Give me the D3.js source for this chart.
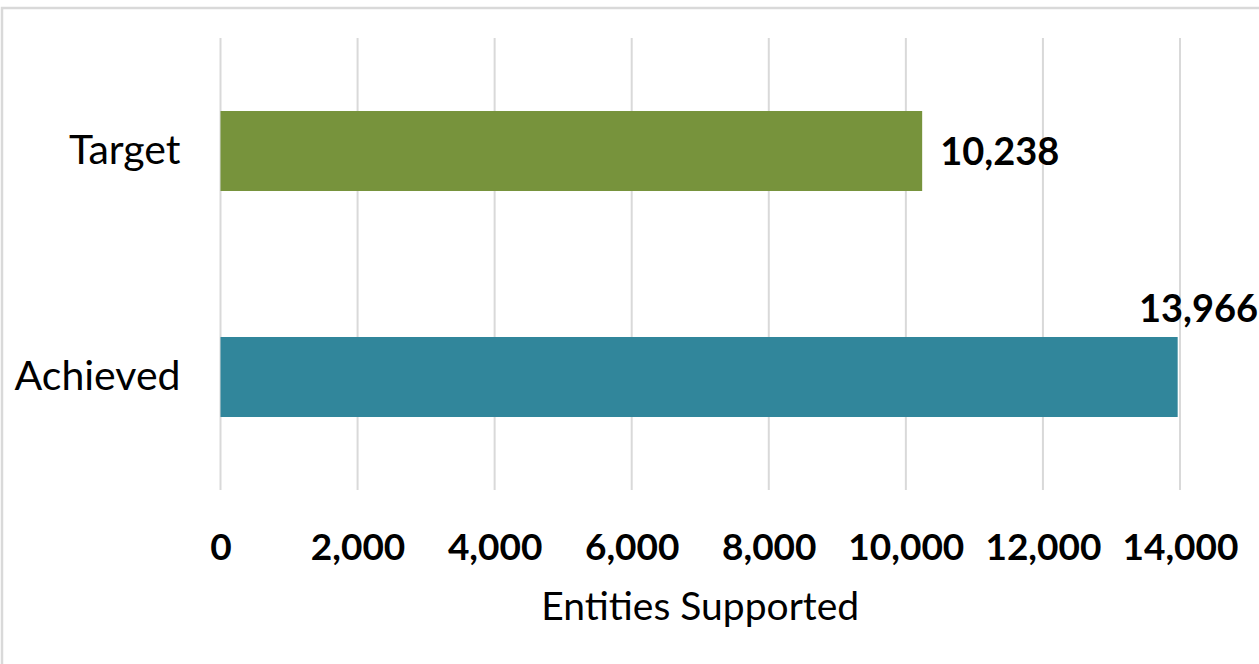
<!DOCTYPE html>
<html>
<head>
<meta charset="utf-8">
<script src="https://cdn.jsdelivr.net/npm/d3@7"></script>
<style>
    body { margin: 0; background: #fff; }
    svg text { font-family: Lato, "Open Sans", sans-serif; fill: #000; }
</style>
</head>
<body>
<div id="chart"></div>
<script>
const categories = ['Target', 'Achieved']
const values = [10238, 13966]
const barColors = ['#77933c', '#31869b']
const tickValues = [0, 2000, 4000, 6000, 8000, 10000, 12000, 14000]
const axisTitle = 'Entities Supported'

const WIDTH = 1259
const HEIGHT = 664
const margin = { top: 38, right: 79, bottom: 174, left: 220.5 }

const svg = d3.select('#chart')
    .append('svg')
    .attr('width', WIDTH)
    .attr('height', HEIGHT)

// Chart frame
svg.append('rect')
    .attr('x', 2)
    .attr('y', 8)
    .attr('width', WIDTH + 10)
    .attr('height', HEIGHT + 10)
    .attr('fill', 'none')
    .attr('stroke', '#d9d9d9')
    .attr('stroke-width', 2.5)

const xscale = d3.scaleLinear()
    .domain([0, 14000])
    .range([margin.left, WIDTH - margin.right])

const yscale = d3.scaleBand()
    .domain(categories)
    .range([margin.top, HEIGHT - margin.bottom])
    .paddingInner(0.646)
    .paddingOuter(0.323)

const plotBottom = HEIGHT - margin.bottom

// Vertical gridlines
svg.append('g')
    .selectAll('line')
    .data(tickValues)
    .enter()
    .append('line')
    .attr('x1', d => xscale(d))
    .attr('x2', d => xscale(d))
    .attr('y1', margin.top)
    .attr('y2', plotBottom)
    .attr('stroke', '#d9d9d9')
    .attr('stroke-width', 2)

// X axis tick labels
const xAxis = d3.axisBottom(xscale)
    .tickValues(tickValues)
    .tickSize(0)
    .tickPadding(0)
    .tickFormat(d3.format(','))

const axisG = svg.append('g')
    .attr('transform', `translate(0, ${plotBottom})`)
    .call(xAxis)
axisG.select('.domain').remove()
axisG.selectAll('text')
    .attr('y', 70)
    .attr('dy', 0)
    .style('font-family', 'Lato, sans-serif')
    .style('font-size', '37px')
    .style('font-weight', 'bold')
    .style('fill', '#000')

// Axis title
svg.append('text')
    .attr('x', (xscale.range()[0] + xscale.range()[1]) / 2)
    .attr('y', 620)
    .attr('text-anchor', 'middle')
    .style('font-size', '39px')
    .text(axisTitle)

const data = categories.map((c, i) => ({ key: c, value: values[i], color: barColors[i] }))

// Bars
svg.append('g')
    .selectAll('rect')
    .data(data)
    .enter()
    .append('rect')
    .attr('x', xscale(0))
    .attr('y', d => yscale(d.key))
    .attr('width', d => xscale(d.value) - xscale(0))
    .attr('height', yscale.bandwidth())
    .attr('fill', d => d.color)

// Category labels
svg.append('g')
    .selectAll('text')
    .data(data)
    .enter()
    .append('text')
    .attr('x', xscale(0) - 40)
    .attr('y', d => yscale(d.key) + yscale.bandwidth() / 2 + 13)
    .attr('text-anchor', 'end')
    .style('font-size', '41px')
    .text(d => d.key)

// Value labels: outside end, pushed above the bar if it would not fit
const fmt = d3.format(',')
svg.append('g')
    .selectAll('text')
    .data(data)
    .enter()
    .append('text')
    .each(function (d) {
        const t = d3.select(this)
            .style('font-size', '38px')
            .style('font-weight', 'bold')
            .text(fmt(d.value))
        const w = this.getComputedTextLength()
        const xEnd = xscale(d.value)
        const yMid = yscale(d.key) + yscale.bandwidth() / 2
        if (xEnd + 18 + w < WIDTH) {
            t.attr('x', xEnd + 18).attr('y', yMid + 14)
        } else {
            t.attr('x', WIDTH - 1)
                .attr('y', yscale(d.key) - 15)
                .attr('text-anchor', 'end')
        }
    })
</script>
</body>
</html>
